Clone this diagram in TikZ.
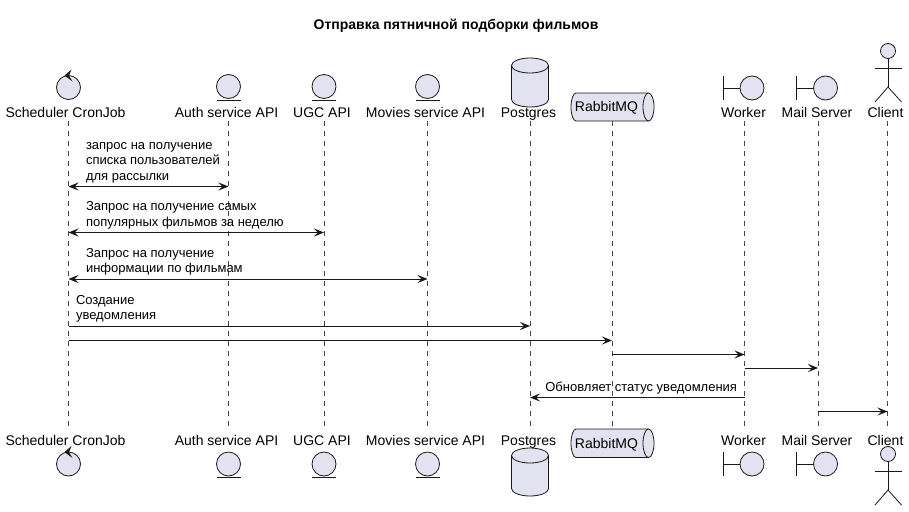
\documentclass[tikz,border=0pt]{standalone}
\usepackage{fontspec}
\setmainfont{Liberation Sans}
\usetikzlibrary{arrows.meta}
\definecolor{pfill}{HTML}{E2E2F0}
\definecolor{pline}{HTML}{181818}
\begin{document}
\begin{tikzpicture}[x=1pt,y=-1pt,
  every node/.style={inner sep=0pt, outer sep=0pt, text=black},
  plabel/.style={font=\fontsize{14}{16}\selectfont, anchor=base},
  mlabel/.style={font=\fontsize{13}{15.5}\selectfont, align=left, anchor=south west, text depth=0pt},
  lifeline/.style={draw=pline!80, line width=0.6pt, dash pattern=on 5pt off 5pt},
  icon/.style={draw=pline, fill=pfill, line width=0.8pt},
  stick/.style={draw=pline, line width=0.8pt},
  tip/.style={Stealth[length=10pt,width=8pt,inset=4pt]},
  msg/.style={draw=pline, line width=1pt, -{Stealth[length=10pt,width=8pt,inset=4pt]}},
  bimsg/.style={draw=pline, line width=1pt, {Stealth[length=10pt,width=8pt,inset=4pt]}-{Stealth[length=10pt,width=8pt,inset=4pt]}},
]
\useasboundingbox[fill=white] (0,0) rectangle (909,511);

\node[font=\fontsize{14}{16}\selectfont\bfseries, anchor=base] (title) at (456,30) {Отправка пятничной подборки фильмов};

% lifeline coordinates
\coordinate (L1) at (68.5,121);  \coordinate (B1) at (68.5,430);
\coordinate (L2) at (228.5,121); \coordinate (B2) at (228.5,430);
\coordinate (L3) at (324,121);   \coordinate (B3) at (324,430);
\coordinate (L4) at (427.5,121); \coordinate (B4) at (427.5,430);
\coordinate (L5) at (530,121);   \coordinate (B5) at (530,430);
\coordinate (L6) at (612,121);   \coordinate (B6) at (612,429);
\coordinate (L7) at (744.5,121); \coordinate (B7) at (744.5,430);
\coordinate (L8) at (818,121);   \coordinate (B8) at (818,430);
\coordinate (L9) at (887.5,121); \coordinate (B9) at (887.5,430);
\foreach \i in {1,...,9} { \draw[lifeline] (L\i) -- (B\i); }

% ---------- top participants ----------
% Scheduler (control)
\draw[icon] (68.5,87.5) circle (12);
\fill[pline] (64.5,75.5) -- (71.5,69.5) -- (69,75.8) -- (72.5,81.5) -- cycle;
\node[plabel] (sT) at (65.5,117) {Scheduler CronJob};
% entities
\foreach \x/\n/\t in {228.5/aT/Auth service API, 324/uT/UGC API, 427.5/mT/Movies service API} {
  \draw[icon] (\x,86.5) circle (12);
  \draw[stick] (\x-12,100.5) -- (\x+12,100.5);
  \node[plabel] (\n) at (\x-2,117) {\t};
}
% Postgres (database)
\draw[icon] (511.5,65.5) -- (511.5,99.5) arc[start angle=180,end angle=360,x radius=18.5pt,y radius=7.5pt]
  -- (548.5,65.5) arc[start angle=0,end angle=180,x radius=18.5pt,y radius=7.5pt] -- cycle;
\draw[stick] (511.5,65.5) arc[start angle=180,end angle=360,x radius=18.5pt,y radius=7.5pt];
\node[plabel] (pT) at (528.5,117) {Postgres};
% RabbitMQ (queue)
\draw[icon] (576,93) -- (648.5,93) arc[start angle=90,end angle=-90,x radius=5.5pt,y radius=14pt]
  -- (576,121) arc[start angle=270,end angle=90,x radius=5pt,y radius=14pt] -- cycle;
\draw[stick] (648.5,93) arc[start angle=90,end angle=270,x radius=5.5pt,y radius=14pt];
\node[plabel] (rT) at (606.5,111) {RabbitMQ};
% boundaries
\foreach \x/\n/\t in {744.5/wT/Worker, 818/msT/Mail Server} {
  \draw[stick] (\x-21.5,76) -- (\x-21.5,100);
  \draw[stick] (\x-21.5,88) -- (\x-4.5,88);
  \draw[icon] (\x+7.5,88) circle (12);
  \node[plabel] (\n) at (\x-1,117) {\t};
}
% Client (actor)
\draw[icon] (888,51) circle (7.5);
\draw[stick] (888,58.5) -- (888,87);
\draw[stick] (875,68.5) -- (901.5,68.5);
\draw[stick] (875,102) -- (888,87) -- (901.5,102);
\node[plabel] (cT) at (885.5,117) {Client};

% ---------- bottom participants ----------
\node[plabel] (sB) at (65.5,445) {Scheduler CronJob};
\draw[icon] (68.5,464) circle (12);
\fill[pline] (64.5,452) -- (71.5,446) -- (69,452.3) -- (72.5,458) -- cycle;
\foreach \x/\n/\t in {228.5/aB/Auth service API, 324/uB/UGC API, 427.5/mB/Movies service API} {
  \node[plabel] (\n) at (\x-2,445) {\t};
  \draw[icon] (\x,464) circle (12);
  \draw[stick] (\x-12,477.5) -- (\x+12,477.5);
}
\node[plabel] (pB) at (528.5,445) {Postgres};
\draw[icon] (511.5,455.5) -- (511.5,488.5) arc[start angle=180,end angle=360,x radius=18.5pt,y radius=7.5pt]
  -- (548.5,455.5) arc[start angle=0,end angle=180,x radius=18.5pt,y radius=7.5pt] -- cycle;
\draw[stick] (511.5,455.5) arc[start angle=180,end angle=360,x radius=18.5pt,y radius=7.5pt];
\draw[icon] (576,429) -- (648.5,429) arc[start angle=90,end angle=-90,x radius=5.5pt,y radius=14.25pt]
  -- (576,457.5) arc[start angle=270,end angle=90,x radius=5pt,y radius=14.25pt] -- cycle;
\draw[stick] (648.5,429) arc[start angle=90,end angle=270,x radius=5.5pt,y radius=14.25pt];
\node[plabel] (rB) at (606.5,448) {RabbitMQ};
\foreach \x/\n/\t in {744.5/wB/Worker, 818/msB/Mail Server} {
  \node[plabel] (\n) at (\x-1,445) {\t};
  \draw[stick] (\x-21.5,452) -- (\x-21.5,476);
  \draw[stick] (\x-21.5,464) -- (\x-4.5,464);
  \draw[icon] (\x+7.5,464) circle (12);
}
\node[plabel] (cB) at (885.5,445) {Client};
\draw[icon] (888,454) circle (7.5);
\draw[stick] (888,461.5) -- (888,490);
\draw[stick] (875,471.5) -- (901.5,471.5);
\draw[stick] (875,505) -- (888,490) -- (901.5,505);

% ---------- messages ----------
\coordinate (m1) at (0,186.5);
\coordinate (m2) at (0,232.5);
\coordinate (m3) at (0,279);
\coordinate (m4) at (0,326);
\coordinate (m5) at (0,340.5);
\coordinate (m6) at (0,354.5);
\coordinate (m7) at (0,368);
\coordinate (m8) at (0,397.5);
\coordinate (m9) at (0,411.5);

\draw[bimsg] (L1 |- m1) -- (L2 |- m1);
\node[mlabel] (t1) at (86,180) {запрос на получение\\списка пользователей\\для рассылки};
\draw[bimsg] (L1 |- m2) -- (L3 |- m2);
\node[mlabel] (t2) at (86,226) {Запрос на получение самых\\популярных фильмов за неделю};
\draw[bimsg] (L1 |- m3) -- (L4 |- m3);
\node[mlabel] (t3) at (86,272.5) {Запрос на получение\\информации по фильмам};
\draw[msg] (L1 |- m4) -- (L5 |- m4);
\node[mlabel] (t4) at (76,319.5) {Создание\\уведомления};
\draw[msg] (L1 |- m5) -- (L6 |- m5);
\draw[msg] (L6 |- m6) -- (L7 |- m6);
\draw[msg] (L7 |- m7) -- (L8 |- m7);
\draw[msg] (L7 |- m8) -- (L5 |- m8);
\node[font=\fontsize{13}{15.5}\selectfont, anchor=base east] (t8) at (737,391) {Обновляет статус уведомления};
\draw[msg] (L8 |- m9) -- (L9 |- m9);
\end{tikzpicture}
\end{document}
